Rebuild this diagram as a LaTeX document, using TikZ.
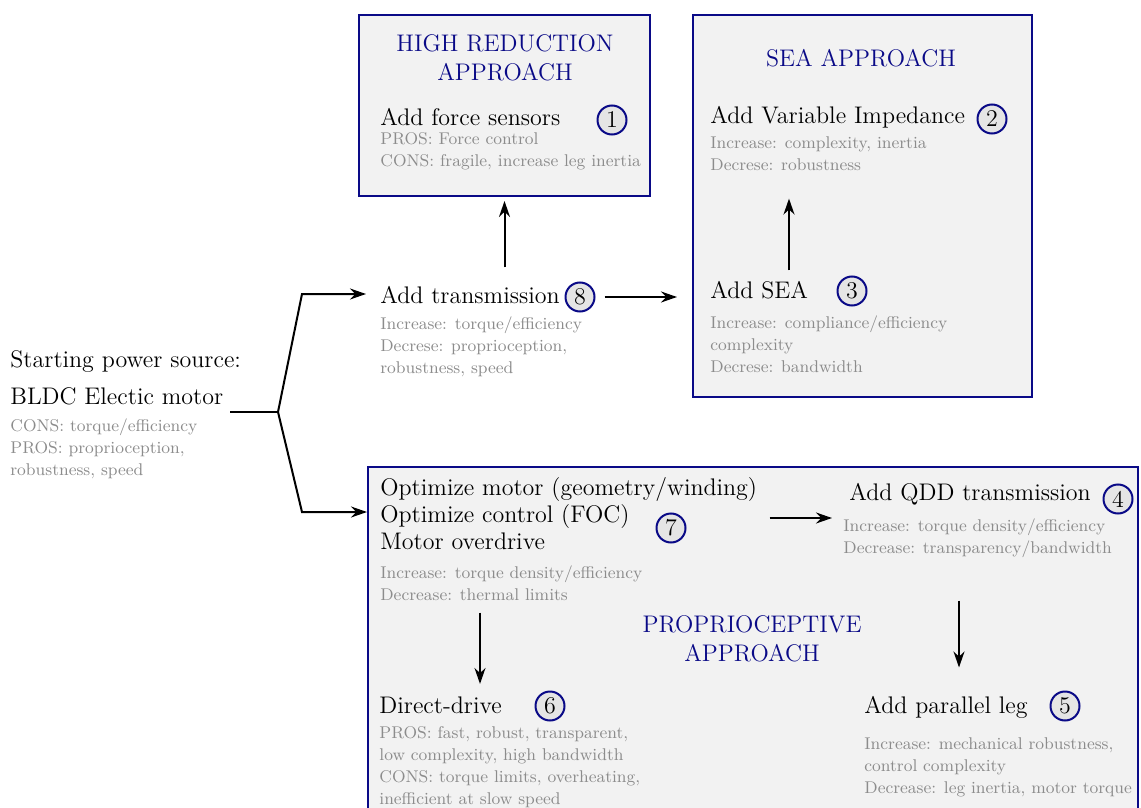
\documentclass[tikz,border=0pt]{standalone}
\usepackage{tikz}
\usetikzlibrary{arrows.meta}
\definecolor{navyblue}{RGB}{10,10,135}
\definecolor{boxgray}{RGB}{242,242,242}

\begin{document}
\begin{tikzpicture}[x=0.5pt,y=-0.5pt,
  maintext/.style={anchor=base west,inner sep=0,font=\fontsize{12}{13.5}\selectfont},
  graytext/.style={anchor=base west,inner sep=0,align=left,text=black!45,font=\fontsize{8.5}{11}\selectfont},
  approach/.style={anchor=base,align=center,inner sep=0,text=navyblue,font=\fontsize{12}{14.5}\selectfont},
  num/.style={circle,draw=navyblue,fill=black!10,line width=1pt,inner sep=0,minimum size=14.5pt,font=\fontsize{12}{13}\selectfont},
  panel/.style={draw=navyblue,fill=boxgray,line width=1pt,inner sep=0},
  arr/.style={-{Stealth[length=8pt,width=5.5pt]},line width=1pt}]

\useasboundingbox (0,0) rectangle (1141,808);

\node[panel,minimum width=145.5pt,minimum height=90.5pt] (hrbox) at (504.5,105.5) {};
\node[panel,minimum width=169.5pt,minimum height=191pt] (seabox) at (862.5,206) {};
\node[panel,minimum width=385pt,minimum height=181.5pt] (ppbox) at (753,648.5) {};

\node[maintext] (start) at (10,367) {Starting power source:};
\node[maintext] (bldc) at (10,404) {BLDC Electic motor};
\node[graytext] (bldcnote) at (10,475) {CONS: torque/efficiency\\PROS: proprioception,\\robustness, speed};

\node[approach] (hrtitle) at (505,81) {HIGH REDUCTION\\APPROACH};
\node[maintext] (force) at (380,126) {Add force sensors};
\node[num] (n1) at (612,120) {1};
\node[graytext] (forcenote) at (380,167) {PROS: Force control\\CONS: fragile, increase leg inertia};

\node[approach] (seatitle) at (861,67) {SEA APPROACH};
\node[maintext] (vimp) at (710,124) {Add Variable Impedance};
\node[num] (n2) at (992,119) {2};
\node[graytext] (vimpnote) at (710,170) {Increase: complexity, inertia\\Decrese: robustness};
\node[maintext] (sea) at (710,298) {Add SEA};
\node[num] (n3) at (852,291) {3};
\node[graytext] (seanote) at (710,372) {Increase: compliance/efficiency\\complexity\\Decrese: bandwidth};

\node[maintext] (trans) at (380,303) {Add transmission};
\node[num] (n8) at (580,297) {8};
\node[graytext] (transnote) at (380,373) {Increase: torque/efficiency\\Decrese: proprioception,\\robustness, speed};

\node[maintext,align=left] (opt) at (380,549) {Optimize motor (geometry/winding)\\Optimize control (FOC)\\Motor overdrive};
\node[num] (n7) at (671,528) {7};
\node[graytext] (optnote) at (380,600) {Increase: torque density/efficiency\\Decrease: thermal limits};
\node[maintext] (qdd) at (849,500) {Add QDD transmission};
\node[num] (n4) at (1118,499) {4};
\node[graytext] (qddnote) at (843,553) {Increase: torque density/efficiency\\Decrease: transparency/bandwidth};
\node[approach] (pptitle) at (752,661) {PROPRIOCEPTIVE\\APPROACH};
\node[maintext] (dd) at (379,713) {Direct-drive};
\node[num] (n6) at (550,706) {6};
\node[graytext] (ddnote) at (379,804) {PROS: fast, robust, transparent,\\low complexity, high bandwidth\\CONS: torque limits, overheating,\\inefficient at slow speed};
\node[maintext] (par) at (864,713) {Add parallel leg};
\node[num] (n5) at (1065,706) {5};
\node[graytext] (parnote) at (864,793) {Increase: mechanical robustness,\\control complexity\\Decrease: leg inertia, motor torque};

\coordinate (bldcout) at (230,412);
\coordinate (fork) at (278,412);
\coordinate (forkup) at (302,294);
\coordinate (forkdown) at (302,512);
\draw[line width=1pt] (bldcout) -- (fork);
\draw[arr,shorten >=7pt] (fork) -- (forkup) -- (trans.west |- forkup);
\draw[arr] (fork) -- (forkdown) -- (ppbox.west |- forkdown);
\draw[arr,shorten <=9pt,shorten >=2pt] (hrbox.south |- trans.north) -- (hrbox.south);
\draw[arr,shorten <=4.5pt,shorten >=7.5pt] (n8.east) -- (n8.east -| seabox.west);
\draw[arr,shorten <=5pt,shorten >=14pt] (sea.north -| 789,0) -- (vimpnote.south -| 789,0);
\draw[arr,shorten <=6pt,shorten >=5.5pt] (opt.east |- 0,518) -- (qddnote.west |- 0,518);
\draw[arr,shorten <=6pt,shorten >=6pt] (optnote.south -| 480,0) -- (dd.north -| 480,0);
\draw[arr,shorten <=21.5pt,shorten >=14pt] (qddnote.south -| 959,0) -- (par.north -| 959,0);
\end{tikzpicture}
\end{document}
